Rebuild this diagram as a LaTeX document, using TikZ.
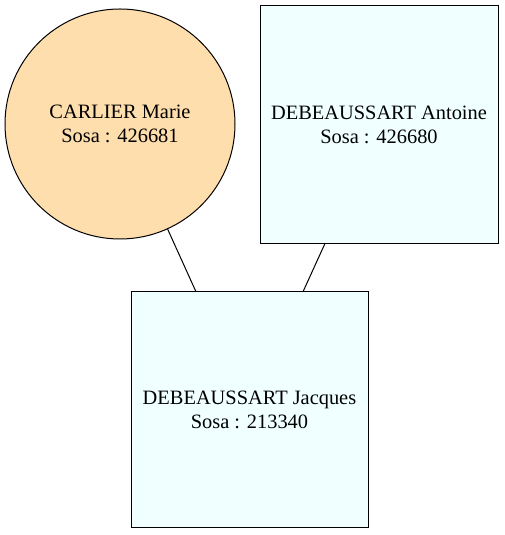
\documentclass[tikz,border=0pt]{standalone}
\usepackage{fontspec}
\setmainfont{Liberation Serif}
\newfontfamily\personfont{Liberation Serif}
\definecolor{womanfill}{HTML}{FFDEAD}
\definecolor{manfill}{HTML}{F0FFFF}

\begin{document}
\begin{tikzpicture}[x=1pt, y=1pt, line width=1pt,
    person/.style={draw=black, align=center, inner sep=0pt,
        font=\personfont\fontsize{20.4}{24}\selectfont},
    woman/.style={person, circle, fill=womanfill, minimum size=230pt},
    man/.style={person, rectangle, fill=manfill, minimum width=238pt, minimum height=238pt}]

    \useasboundingbox (0,0) rectangle (504,535);

    \node[woman] (marie) at (120,411) {CARLIER Marie\\Sosa : 426681};
    \node[man] (antoine) at (379,410.5) {DEBEAUSSART Antoine\\Sosa : 426680};
    \node[man, minimum width=237pt, minimum height=236pt] (jacques) at (249.5,125)
        {DEBEAUSSART Jacques\\Sosa : 213340};

    \draw (marie) -- (jacques);
    \draw (antoine) -- (jacques);
\end{tikzpicture}
\end{document}
